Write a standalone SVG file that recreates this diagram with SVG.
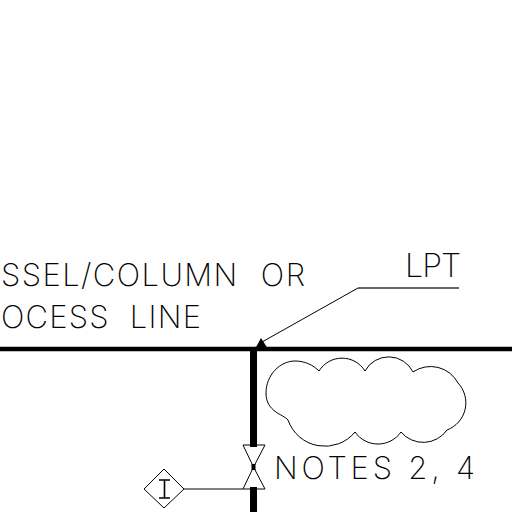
<svg xmlns="http://www.w3.org/2000/svg" width="512" height="512" viewBox="0 0 512 512">
<style>
.t{font-family:"Inter","Liberation Sans",sans-serif;font-weight:150;fill:#000;opacity:.99}
.l{fill:none;stroke:#000;stroke-width:1}
.h{fill:none;stroke:#000;stroke-width:4.5}
</style>
<rect width="512" height="512" fill="#fff"/>
<g id="connectors">
<path class="h" d="M0 349H512"/>
<path class="h" d="M253.500 349V447M253.500 487V512" style="stroke-width:7"/>
<path class="l" d="M184 489H243"/>
<path class="l" d="M262 342L358 288"/>
<path d="M358 288H459" fill="none" stroke="#666" stroke-width="1.800"/>
<path d="M261 338L255 349H268Z" fill="#000"/>
</g>
<g id="vessel-label">
<text class="t" font-size="31" x="1" y="286" textLength="304" lengthAdjust="spacing" word-spacing="12">SSEL/COLUMN OR</text>
<text class="t" font-size="31" x="1" y="328" textLength="200" lengthAdjust="spacing" word-spacing="10">OCESS LINE</text>
</g>
<g id="lpt-label"><text class="t" font-size="32" x="405" y="277" textLength="56" lengthAdjust="spacing">LPT</text></g>
<g id="notes-label"><text class="t" font-size="31" x="274" y="479" textLength="201" lengthAdjust="spacing">NOTES 2, 4</text></g>
<g id="cloud"><path class="l" d="M319 371A27 27 0 0 1 365 371A27 27 0 0 1 413 372A31 31 0 0 1 458 383A29 29 0 0 1 447 430A29 29 0 0 1 401 432A28 28 0 0 1 355 432A39 39 0 0 1 288 420C283 414 266 412 266 393C266 375 280 361 295 361C305 361 313 365 319 371Z"/></g>
<g id="valve">
<path class="l" d="M243 445H265L253.500 467L265 489H243L253.500 467Z"/>
<path d="M251.500 464H255.500V470H251.500Z" fill="#000"/>
</g>
<g id="indicator">
<path class="l" d="M164 469L184 489L164 508L144 489Z"/>
<path d="M159 480H170M164.500 480V498M159 498H170" fill="none" stroke="#000" stroke-width="1.600"/>
</g>
</svg>
